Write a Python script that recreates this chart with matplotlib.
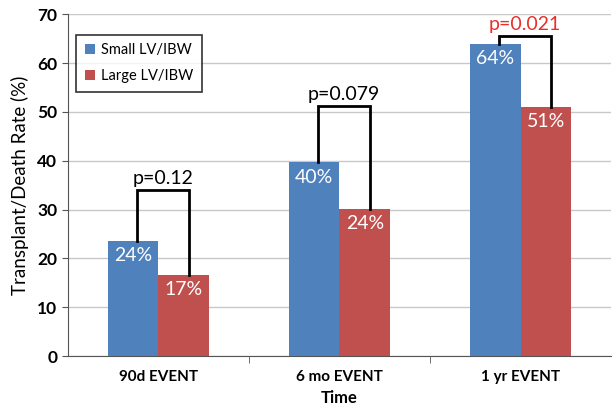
import matplotlib.pyplot as plt
import numpy as np

plt.rcParams['font.family'] = ['Lato', 'DejaVu Sans']

categories = ['90d EVENT', '6 mo EVENT', '1 yr EVENT']
small_vals = [23.6, 39.7, 64.0]
large_vals = [16.7, 30.2, 51.0]
small_labels = ['24%', '40%', '64%']
large_labels = ['17%', '24%', '51%']
p_texts = ['p=0.12', 'p=0.079', 'p=0.021']
p_colors = ['black', 'black', '#e8302a']
bracket_tops = [34.0, 51.2, 65.5]

blue = '#4f81bd'
red = '#c0504d'

fig = plt.figure(figsize=(6.16, 4.18), dpi=100)
ax = fig.add_axes([0.110, 0.148, 0.882, 0.818])

x = np.arange(len(categories))
w = 0.28
ax.bar(x - w / 2, small_vals, w, color=blue, label='Small LV/IBW', zorder=3)
ax.bar(x + w / 2, large_vals, w, color=red, label='Large LV/IBW', zorder=3)

for i in range(len(categories)):
    ax.text(x[i] - w / 2, small_vals[i] - 1.3, small_labels[i], ha='center', va='top',
            color='white', fontsize=14, zorder=4)
    ax.text(x[i] + w / 2, large_vals[i] - 1.3, large_labels[i], ha='center', va='top',
            color='white', fontsize=14, zorder=4)
    # bracket
    xl = x[i] - w / 2 + 0.02
    xr = x[i] + w / 2 + 0.03
    ax.plot([xl, xl, xr, xr], [small_vals[i], bracket_tops[i], bracket_tops[i], large_vals[i]],
            color='black', lw=2, zorder=5, solid_joinstyle='miter')
    ax.text((xl + xr) / 2, bracket_tops[i] + 0.6, p_texts[i], ha='center', va='bottom',
            color=p_colors[i], fontsize=14, zorder=5)

ax.set_xlim(-0.5, 2.5)
ax.set_ylim(0, 70)
ax.set_yticks(range(0, 71, 10))
ax.yaxis.grid(True, color='#c8c8c8', lw=1, zorder=0)
ax.set_axisbelow(True)

ax.set_xticks(x)
ax.set_xticklabels(categories, fontsize=11, fontweight='bold')
ax.set_xticks([0.5, 1.5], minor=True)
ax.tick_params(axis='x', which='major', length=0, pad=10)
ax.tick_params(axis='x', which='minor', length=5, color='#555555')
ax.tick_params(axis='y', labelsize=12.5, length=4, color='#555555')
for lab in ax.get_yticklabels():
    lab.set_fontweight('bold')

for s in ['top', 'right']:
    ax.spines[s].set_visible(False)
ax.spines['left'].set_color('#555555')
ax.spines['bottom'].set_color('#555555')

ax.set_ylabel('Transplant/Death Rate (%)', fontsize=13.5, labelpad=6)
ax.set_xlabel('Time', fontsize=12, fontweight='bold', labelpad=4)

leg = ax.legend(loc='upper left', bbox_to_anchor=(0.015, 0.94), borderaxespad=0,
                fontsize=10.5, frameon=True,
                fancybox=False, edgecolor='black', handlelength=0.7, handleheight=0.7,
                handletextpad=0.4, borderpad=0.6, labelspacing=0.8)
leg.get_frame().set_linewidth(1.2)

fig.savefig('out.png', dpi=100)
